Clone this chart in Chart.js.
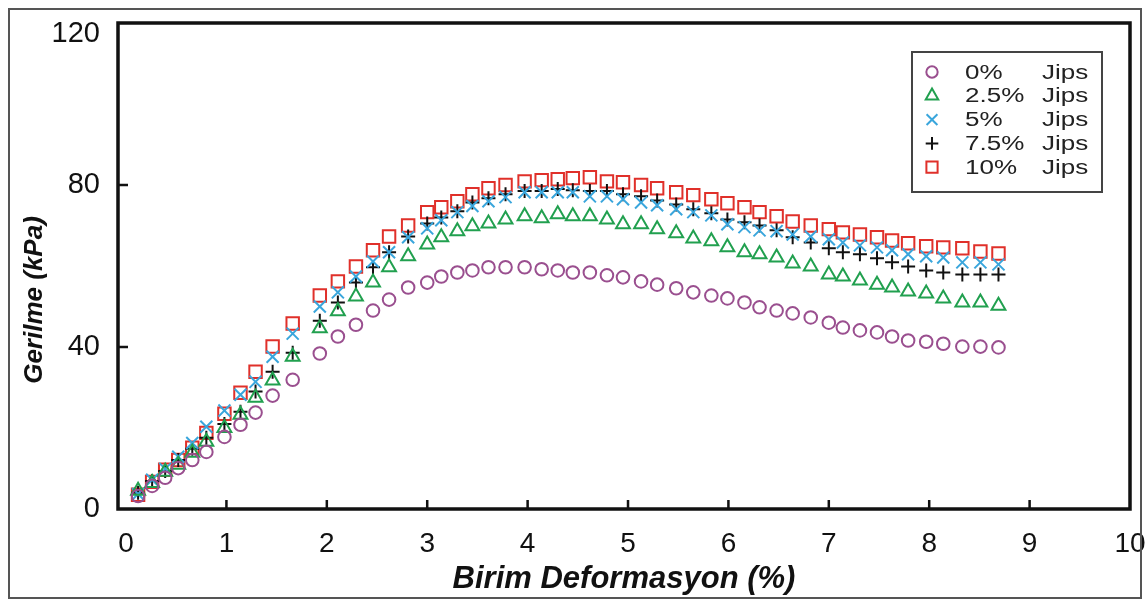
<!DOCTYPE html>
<html>
<head>
<meta charset="utf-8">
<script src="https://cdn.jsdelivr.net/npm/chart.js@4.4.1/dist/chart.umd.min.js"></script>
<style>
  html, body { margin: 0; padding: 0; background: #fff; }
  #wrap { width: 1147px; height: 606px; }
</style>
</head>
<body>
<div id="wrap"><canvas id="chart" width="1147" height="606"></canvas></div>
<script>
// strain (%) at each reading
const strain = [0.12, 0.26, 0.39, 0.52, 0.66, 0.80, 0.98, 1.14, 1.29, 1.46,
  1.66, 1.93, 2.11, 2.29, 2.46, 2.62, 2.81, 3.00, 3.14, 3.30,
  3.45, 3.61, 3.78, 3.97, 4.14, 4.30, 4.45, 4.62, 4.79, 4.95,
  5.13, 5.29, 5.48, 5.65, 5.83, 5.99, 6.16, 6.31, 6.48, 6.64,
  6.82, 7.00, 7.14, 7.31, 7.48, 7.63, 7.79, 7.97, 8.14, 8.33,
  8.51, 8.69];

// stress (kPa) for each gypsum content
const jips0 = [3.2, 5.7, 7.7, 10.1, 12.1, 14.1, 17.8, 20.8, 23.8, 28.0,
  31.9, 38.4, 42.6, 45.5, 49.0, 51.7, 54.7, 55.9, 57.4, 58.4,
  58.9, 59.7, 59.7, 59.7, 59.2, 58.9, 58.4, 58.4, 57.7, 57.2,
  56.2, 55.4, 54.5, 53.5, 52.7, 52.0, 51.0, 49.8, 49.0, 48.3,
  47.3, 46.0, 44.8, 44.1, 43.6, 42.6, 41.6, 41.3, 40.8, 40.1,
  40.1, 39.9];
const jips25 = [4.5, 6.4, 9.2, 10.9, 13.9, 16.6, 20.0, 23.3, 27.5, 31.7,
  37.6, 44.6, 48.8, 52.5, 55.9, 59.7, 62.4, 65.3, 67.1, 68.6,
  69.8, 70.5, 71.5, 72.3, 71.8, 72.8, 72.3, 72.3, 71.5, 70.3,
  70.3, 69.1, 68.1, 66.8, 66.1, 64.6, 63.4, 62.9, 62.1, 60.6,
  59.9, 57.9, 57.4, 56.4, 55.4, 54.7, 53.7, 53.2, 52.0, 51.0,
  51.0, 50.2];
const jips5 = [3.7, 7.2, 9.9, 12.9, 16.3, 20.3, 24.3, 28.2, 31.4, 37.6,
  43.3, 50.0, 53.5, 57.4, 61.1, 63.4, 67.1, 69.3, 71.3, 73.3,
  74.8, 76.0, 77.0, 78.2, 78.2, 78.2, 78.2, 77.2, 77.2, 76.5,
  75.7, 75.0, 74.0, 73.3, 72.5, 70.3, 69.6, 68.8, 68.6, 67.8,
  67.3, 66.6, 65.8, 65.1, 64.6, 63.9, 62.9, 62.4, 62.1, 60.9,
  60.9, 60.4];
const jips75 = [4.0, 6.9, 9.4, 12.1, 14.9, 17.6, 21.0, 24.0, 29.0, 33.9,
  38.6, 46.5, 51.0, 55.9, 59.7, 63.4, 67.3, 70.5, 72.0, 73.5,
  75.7, 76.7, 77.7, 78.5, 78.5, 79.0, 78.7, 78.5, 78.5, 77.7,
  77.2, 76.2, 75.2, 74.0, 73.0, 71.5, 70.8, 70.0, 68.8, 67.1,
  65.8, 64.4, 63.4, 62.9, 61.9, 60.9, 59.9, 58.9, 58.4, 57.9,
  57.9, 57.9];
const jips10 = [3.5, 6.7, 9.7, 12.1, 15.1, 18.8, 23.5, 28.7, 33.9, 40.1,
  45.8, 52.7, 56.2, 59.9, 63.9, 67.3, 70.0, 73.3, 74.5, 76.0,
  77.7, 79.2, 80.0, 80.9, 81.2, 81.4, 81.7, 81.9, 80.9, 80.7,
  80.0, 79.2, 78.2, 77.5, 76.5, 75.5, 74.5, 73.3, 72.3, 71.0,
  70.0, 69.1, 68.3, 67.8, 67.1, 66.3, 65.6, 64.9, 64.6, 64.4,
  63.6, 63.1];

const seriesNames = ['0%', '2.5%', '5%', '7.5%', '10%'];
const seriesValues = [jips0, jips25, jips5, jips75, jips10];
const xTicks = [0, 1, 2, 3, 4, 5, 6, 7, 8, 9, 10];
const yTicks = [0, 40, 80, 120];

const seriesColors = ['#9a4f8f', '#21a04f', '#3aa6dc', '#111111', '#e0302a'];
const seriesStyles = ['circle', 'triangle', 'crossRot', 'cross', 'rect'];
const seriesRadius = [6.3, 8, 8.5, 7, 8.8];

const FONT = '"Liberation Sans", Arial, sans-serif';
const yMax = yTicks[yTicks.length - 1];

// text widened horizontally, as in the legend
function stretchedText(ctx, text, x, y, sx) {
  ctx.save();
  ctx.translate(x, y);
  ctx.scale(sx, 1);
  ctx.fillText(text, 0, 0);
  ctx.restore();
}

const framePlugin = {
  id: 'frame',
  afterDraw(chart) {
    const { ctx, chartArea: a, scales: { x, y } } = chart;
    ctx.save();

    // figure border
    ctx.strokeStyle = '#555';
    ctx.lineWidth = 2;
    ctx.strokeRect(9, 9, 1132, 589);

    // plot box
    ctx.strokeStyle = '#111';
    ctx.lineWidth = 3.5;
    ctx.strokeRect(a.left, a.top, a.right - a.left, a.bottom - a.top);

    // inward tick marks
    ctx.lineWidth = 2.5;
    ctx.beginPath();
    xTicks.slice(1, -1).forEach(v => {
      const px = x.getPixelForValue(v);
      ctx.moveTo(px, a.bottom);
      ctx.lineTo(px, a.bottom - 9);
    });
    yTicks.slice(1, -1).forEach(v => {
      const py = y.getPixelForValue(v);
      ctx.moveTo(a.left, py);
      ctx.lineTo(a.left + 10, py);
    });
    ctx.stroke();

    // top y label sits just below the frame line
    ctx.font = `29px ${FONT}`;
    ctx.fillStyle = '#111';
    ctx.textAlign = 'right';
    ctx.textBaseline = 'middle';
    ctx.fillText(String(yMax), a.left - 18, y.getPixelForValue(yMax) + 11);

    // y axis title
    ctx.save();
    ctx.translate(35, 300);
    ctx.rotate(-Math.PI / 2);
    ctx.font = `italic bold 26px ${FONT}`;
    ctx.textAlign = 'center';
    ctx.fillText('Gerilme (kPa)', 0, 0);
    ctx.restore();

    // legend box
    ctx.strokeStyle = '#444';
    ctx.lineWidth = 2;
    ctx.strokeRect(912, 52, 190, 140);
    ctx.font = `20px ${FONT}`;
    ctx.textAlign = 'left';
    seriesNames.forEach((name, i) => {
      const cy = 72 + i * 23.8;
      ctx.strokeStyle = seriesColors[i];
      ctx.fillStyle = 'rgba(0,0,0,0)';
      ctx.lineWidth = 2;
      Chart.helpers.drawPoint(ctx, {
        pointStyle: seriesStyles[i], radius: seriesRadius[i] * 0.9,
        borderWidth: 2, rotation: 0
      }, 932, cy);
      ctx.fillStyle = '#222';
      stretchedText(ctx, name, 965, cy + 1, 1.3);
      stretchedText(ctx, 'Jips', 1042, cy + 1, 1.3);
    });

    ctx.restore();
  }
};

new Chart(document.getElementById('chart'), {
  type: 'scatter',
  data: {
    datasets: seriesNames.map((name, i) => ({
      label: name + ' Jips',
      data: strain.map((s, k) => ({ x: s, y: seriesValues[i][k] })),
      pointStyle: seriesStyles[i],
      pointRadius: seriesRadius[i],
      pointBorderWidth: 2,
      borderColor: seriesColors[i],
      backgroundColor: 'rgba(0,0,0,0)',
      showLine: false
    }))
  },
  options: {
    responsive: false,
    animation: false,
    layout: { padding: { left: 0, right: 17, top: 23, bottom: 0 } },
    plugins: {
      legend: { display: false },
      tooltip: { enabled: false }
    },
    scales: {
      x: {
        type: 'linear',
        min: -0.08,
        max: 10,
        grid: { display: false, drawTicks: false },
        border: { display: false },
        afterBuildTicks: s => { s.ticks = xTicks.map(v => ({ value: v })); },
        afterFit: s => {
          s.height = 97;
          s.paddingLeft = 0;
          s.paddingRight = 0;
        },
        ticks: {
          padding: 18,
          color: '#111',
          autoSkip: false,
          maxRotation: 0,
          font: { family: FONT, size: 28 }
        },
        title: {
          display: true,
          text: 'Birim Deformasyon (%)',
          color: '#111',
          font: { family: FONT, size: 31, weight: 'bold', style: 'italic' },
          padding: { top: 0, bottom: 8 }
        }
      },
      y: {
        min: 0,
        max: yMax,
        grid: { display: false, drawTicks: false },
        border: { display: false },
        afterBuildTicks: s => { s.ticks = yTicks.map(v => ({ value: v })); },
        afterFit: s => {
          s.width = 118;
          s.paddingTop = 0;
          s.paddingBottom = 0;
        },
        ticks: {
          padding: 18,
          color: '#111',
          font: { family: FONT, size: 29 },
          // the top label is placed by the frame plugin
          callback: v => (v === yMax ? '' : String(v))
        }
      }
    }
  },
  plugins: [framePlugin]
});
</script>
</body>
</html>
